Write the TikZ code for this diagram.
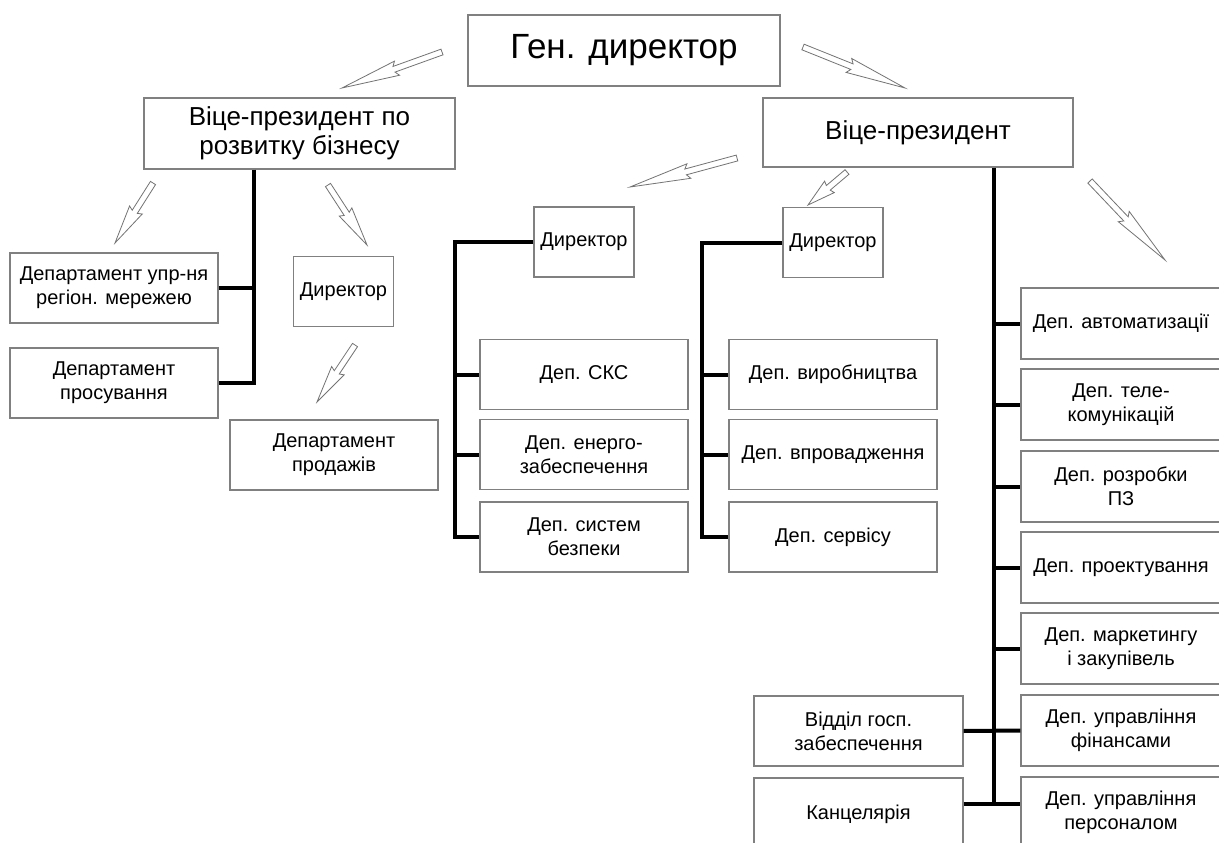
\documentclass[tikz,border=0pt]{standalone}
\usepackage{fontspec}
\setmainfont{Liberation Sans}
\usetikzlibrary{calc}

\tikzset{
  box/.style={draw=black!50,line width=1.1pt,inner sep=2pt,align=center,
    font=\fontsize{20}{24}\selectfont,minimum height=70pt},
  dept/.style={box,minimum width=208pt},
  dirbox/.style={box,minimum width=100pt},
  colbox/.style={box,minimum width=200pt,minimum height=71pt},
  trunk/.style={line width=4pt,black},
  hollow/.style={draw=black!55,line width=0.8pt,fill=white,line join=miter}
}

% hollow block arrow from #1 to #2
\newcommand{\hollowarrow}[2]{%
  \coordinate (hb) at ($(#1)!0.48!(#2)$);
  \coordinate (hn) at ($(#1)!0.45!(#2)$);
  \draw[hollow] ($(#1)!3pt!90:(#2)$) -- ($(hb)!3pt!90:(#2)$) -- ($(hn)!7.5pt!90:(#2)$)
    -- (#2) -- ($(hn)!7.5pt!-90:(#2)$) -- ($(hb)!3pt!-90:(#2)$) -- ($(#1)!3pt!-90:(#2)$) -- cycle;
}

\begin{document}
\begin{tikzpicture}[x=1pt,y=-1pt]
    \path[use as bounding box,fill=white] (0,0) rectangle (1219,843);

    % top levels
    \node[box,font=\fontsize{35}{40}\selectfont,minimum width=312pt,minimum height=71pt] (gen) at (624,50.5) {Ген. директор};
    \node[box,font=\fontsize{26}{29}\selectfont,minimum width=311pt,minimum height=71pt] (vpl) at (299.5,133.5) {Віце-президент по\\розвитку бізнесу};
    \node[box,font=\fontsize{26}{29}\selectfont,minimum width=310pt,minimum height=69pt] (vpr) at (918,132.5) {Віце-президент};

    % business development branch
    \node[dept] (dreg) at (114,288) {Департамент упр-ня\\регіон. мережею};
    \node[dept] (dpros) at (114,383) {Департамент\\просування};
    \node[dirbox] (dirl) at (343.5,291.5) {Директор};
    \node[dept] (dsales) at (334,455) {Департамент\\продажів};

    % directors under vice-president
    \node[dirbox] (dirm) at (584,242) {Директор};
    \node[dept] (dskc) at (584,374.5) {Деп. СКС};
    \node[dept] (denergy) at (584,454.5) {Деп. енерго-\\забеспечення};
    \node[dept] (dsec) at (584,537) {Деп. систем\\безпеки};

    \node[dirbox] (dirr) at (833,242.5) {Директор};
    \node[dept] (dprod) at (833,374.5) {Деп. виробництва};
    \node[dept] (dimpl) at (833,454.5) {Деп. впровадження};
    \node[dept] (dserv) at (833,537) {Деп. сервісу};

    % right column
    \node[colbox] (dauto) at (1121,323.5) {Деп. автоматизації};
    \node[colbox] (dtel) at (1121,404.5) {Деп. теле-\\комунікацій};
    \node[colbox] (dsw) at (1121,486.5) {Деп. розробки\\ПЗ};
    \node[colbox] (dproj) at (1121,567.5) {Деп. проектування};
    \node[colbox] (dmark) at (1121,648.5) {Деп. маркетингу\\і закупівель};
    \node[colbox] (dfin) at (1121,730.5) {Деп. управління\\фінансами};
    \node[colbox] (dpers) at (1121,812.5) {Деп. управління\\персоналом};
    \node[box,minimum width=209pt,minimum height=70pt] (dhosp) at (858.5,731) {Відділ госп.\\забеспечення};
    \node[box,minimum width=209pt,minimum height=72pt] (dkanc) at (858.5,814) {Канцелярія};

    % thick connectors
    \coordinate (tl) at (254,0);
    \draw[trunk] (vpl.south -| tl) -- (tl |- dpros.east) -- (dpros.east);
    \draw[trunk] (dreg.east) -- (dreg.east -| tl);

    \coordinate (tm) at (455,0);
    \draw[trunk] (dirm.west) -| (tm |- dsec.west) -- (dsec.west);
    \draw[trunk] (tm |- dskc.west) -- (dskc.west);
    \draw[trunk] (tm |- denergy.west) -- (denergy.west);

    \coordinate (tr) at (702,0);
    \draw[trunk] (dirr.west) -| (tr |- dserv.west) -- (dserv.west);
    \draw[trunk] (tr |- dprod.west) -- (dprod.west);
    \draw[trunk] (tr |- dimpl.west) -- (dimpl.west);

    \coordinate (tend) at (994,804);
    \draw[trunk] (vpr.south -| tend) -- (tend);
    \foreach \n in {dauto,dtel,dsw,dproj,dmark}
        \draw[trunk] (tend |- \n.west) -- (\n.west);
    \draw[trunk] (dhosp.east) -- (dfin.west);
    \draw[trunk] (dkanc.east |- tend) -- (dpers.west |- tend);

    % hollow arrows
    \coordinate (a1s) at (442,52);   \coordinate (a1e) at (342,88);
    \coordinate (a2s) at (803,47);   \coordinate (a2e) at (905,88);
    \coordinate (a3s) at (153,183);  \coordinate (a3e) at (115,243);
    \coordinate (a4s) at (328,185);  \coordinate (a4e) at (367,245);
    \coordinate (a5s) at (355,345);  \coordinate (a5e) at (317,402);
    \coordinate (a6s) at (737,158);  \coordinate (a6e) at (630,187);
    \coordinate (a7s) at (847,172);  \coordinate (a7e) at (808,205);
    \coordinate (a8s) at (1090,181); \coordinate (a8e) at (1165,260);
    \foreach \i in {1,...,8} {
        \hollowarrow{a\i s}{a\i e}
    }
\end{tikzpicture}
\end{document}
